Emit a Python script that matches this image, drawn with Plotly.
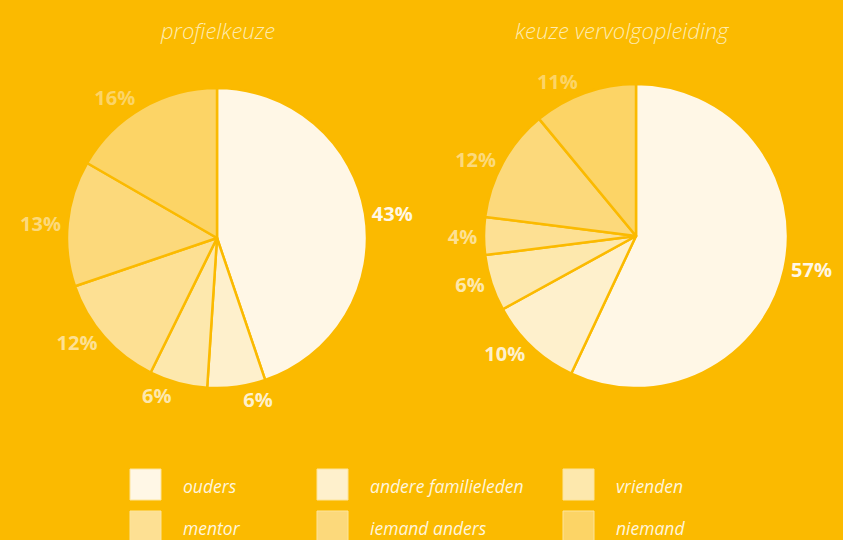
import plotly.graph_objects as go

categories = ["ouders", "andere familieleden", "vrienden", "mentor", "iemand anders", "niemand"]
profielkeuze = [43, 6, 6, 12, 13, 16]
vervolgopleiding = [57, 10, 6, 4, 12, 11]
titles = ["profielkeuze", "keuze vervolgopleiding"]

bg = "#FBBA00"
colors = ["#FFF7E6", "#FEF0CC", "#FDE8AD", "#FDE093", "#FCD97B", "#FCD466"]
W, H = 843, 540
FONT = "Open Sans"

def px(x):
    return x / W

def py(y):
    return 1 - y / H

fig = go.Figure()

pies = [
    (profielkeuze, (67, 367), (88, 388)),
    (vervolgopleiding, (484, 788), (84, 388)),
]
for vals, (x0, x1), (y0, y1) in pies:
    fig.add_trace(go.Pie(
        labels=categories,
        values=vals,
        text=[f"{v}%" for v in vals],
        textinfo="text",
        textposition="outside",
        sort=False,
        direction="clockwise",
        rotation=0,
        marker=dict(colors=colors, line=dict(color=bg, width=2.5)),
        outsidetextfont=dict(family=FONT, size=20, color=colors, weight="bold"),
        domain=dict(x=[px(x0), px(x1)], y=[py(y1), py(y0)]),
        showlegend=False,
        hoverinfo="label+text",
    ))

annotations = []
for t, cx in zip(titles, [217, 622]):
    annotations.append(dict(
        text=t, x=px(cx), y=py(30), xref="paper", yref="paper",
        showarrow=False, xanchor="center", yanchor="middle",
        font=dict(family=FONT, size=22, color="#FEEBB0", style="italic", weight=300),
    ))

# custom legend
shapes = []
col_x = [130, 317, 563]
row_y = [469, 511]
for i, (cat, c) in enumerate(zip(categories, colors)):
    r, k = divmod(i, 3)
    x0 = col_x[k]
    y0 = row_y[r]
    shapes.append(dict(
        type="rect", xref="paper", yref="paper",
        x0=px(x0), x1=px(x0 + 31), y0=py(y0 + 31), y1=py(y0),
        fillcolor=c, line=dict(color="#FDE49A", width=1), layer="above",
    ))
    annotations.append(dict(
        text=cat, x=px(x0 + 51), y=py(y0 + 17), xref="paper", yref="paper",
        showarrow=False, xanchor="left", yanchor="middle",
        font=dict(family=FONT, size=17.5, color="#FFF5DC", style="italic"),
    ))

fig.update_layout(
    width=W, height=H,
    margin=dict(l=0, r=0, t=0, b=0),
    paper_bgcolor=bg, plot_bgcolor=bg,
    annotations=annotations,
    shapes=shapes,
    showlegend=False,
)

fig.write_html(
    "out.html",
    config={"displayModeBar": False},
    post_script="document.body.style.margin='0';document.body.style.background='%s';" % bg,
)
